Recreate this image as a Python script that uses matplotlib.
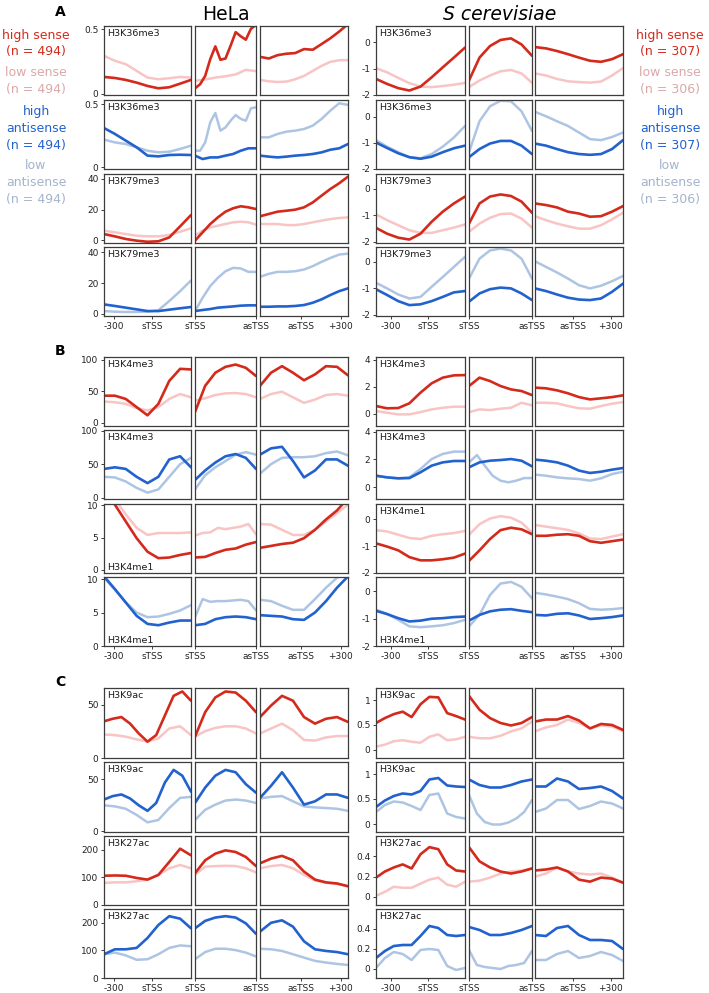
import numpy as np
import matplotlib
matplotlib.use("Agg")
import matplotlib.pyplot as plt
from matplotlib.ticker import FormatStrFormatter

plt.rcParams['font.family'] = 'DejaVu Sans'
plt.rcParams['axes.unicode_minus'] = False

# ---------------- data (each row: 3 panels) ----------------
# HeLa
hela_A1_high = [[0.13, 0.122, 0.107, 0.086, 0.06, 0.042, 0.05, 0.078, 0.107],
                [0.042, 0.073, 0.138, 0.268, 0.367, 0.263, 0.273, 0.372, 0.477, 0.445, 0.419, 0.503, 0.534],
                [0.286, 0.273, 0.299, 0.31, 0.315, 0.346, 0.341, 0.385, 0.43, 0.482, 0.54]]
hela_A1_low = [[0.294, 0.255, 0.229, 0.177, 0.125, 0.112, 0.12, 0.13, 0.125],
               [0.1, 0.11, 0.125, 0.135, 0.15, 0.185, 0.175],
               [0.107, 0.096, 0.091, 0.094, 0.112, 0.138, 0.177, 0.216, 0.247, 0.26, 0.26]]
hela_A2_high = [[0.312, 0.265, 0.212, 0.159, 0.093, 0.087, 0.098, 0.1, 0.098],
                [0.093, 0.066, 0.079, 0.079, 0.093, 0.106, 0.132, 0.151, 0.151],
                [0.093, 0.085, 0.079, 0.085, 0.093, 0.098, 0.106, 0.119, 0.14, 0.151, 0.185]]
hela_A2_low = [[0.22, 0.198, 0.185, 0.159, 0.132, 0.119, 0.124, 0.146, 0.172],
               [0.132, 0.132, 0.198, 0.357, 0.431, 0.291, 0.317, 0.37, 0.415, 0.384, 0.37, 0.468, 0.476],
               [0.238, 0.238, 0.265, 0.283, 0.291, 0.304, 0.331, 0.384, 0.45, 0.508, 0.495]]
hela_A3_high = [[4.1, 2.6, 0.9, -0.2, -0.9, -0.6, 1.9, 9.1, 16.4],
                [-0.2, 5.2, 10.6, 14.9, 18.6, 20.8, 22.1, 21.4, 20.3],
                [15.6, 17.1, 18.6, 19.2, 19.9, 21.4, 24.6, 29.0, 33.3, 37.0, 41.3]]
hela_A3_low = [[6.3, 5.2, 4.1, 3.0, 2.6, 2.6, 3.5, 5.6, 7.8],
               [3.0, 6.3, 8.4, 9.5, 10.6, 11.7, 12.1, 11.7, 10.2],
               [10.6, 10.6, 10.6, 9.9, 9.9, 10.6, 11.7, 12.8, 13.8, 14.5, 14.9]]
hela_A4_high = [[6.2, 5.2, 4.1, 3.0, 1.9, 1.9, 2.8, 3.7, 4.5],
                [1.9, 2.6, 3.2, 4.1, 4.5, 4.9, 5.4, 5.6, 5.6],
                [4.7, 4.7, 4.9, 4.9, 5.2, 5.8, 7.3, 9.5, 12.3, 14.8, 16.6]]
hela_A4_low = [[1.9, 1.5, 1.3, 1.3, 1.5, 2.4, 8.4, 14.8, 21.7],
               [1.9, 10.5, 18.1, 23.4, 27.7, 29.9, 29.5, 27.3, 27.3],
               [24.1, 26.0, 27.3, 27.3, 27.7, 28.8, 31.0, 33.8, 36.3, 38.5, 39.1]]
hela_B1_high = [[43.2, 43.2, 38.0, 25.0, 12.0, 30.2, 66.7, 85.9, 84.9],
                [17.2, 58.9, 79.7, 89.1, 92.7, 87.5, 74.5],
                [58.9, 79.7, 90.1, 79.7, 67.7, 77.1, 90.1, 89.1, 75.5]]
hela_B1_low = [[33.9, 32.8, 30.2, 23.4, 19.8, 25.0, 38.0, 45.8, 40.6],
               [35.4, 39.1, 44.3, 46.9, 47.4, 45.8, 40.6],
               [38.0, 45.8, 49.5, 40.6, 31.8, 37.0, 44.3, 45.8, 43.2]]
hela_B2_high = [[42.9, 45.3, 42.9, 31.1, 21.7, 31.1, 57.0, 61.8, 45.3],
                [26.4, 40.6, 52.4, 61.8, 65.1, 59.4, 42.9],
                [64.2, 73.6, 75.9, 54.7, 30.2, 40.6, 57.1, 57.1, 47.6]]
hela_B2_low = [[31.1, 30.2, 24.1, 14.6, 7.5, 12.3, 31.1, 50.0, 59.4],
               [12.3, 33.5, 45.3, 54.7, 64.2, 67.9, 64.2],
               [35.8, 50.0, 59.4, 60.4, 60.4, 61.8, 66.5, 68.9, 63.2]]
hela_B3_high = [[12.2, 10.1, 7.5, 4.9, 2.8, 1.8, 1.9, 2.3, 2.6],
                [1.9, 2.0, 2.6, 3.1, 3.3, 3.9, 4.3],
                [3.4, 3.7, 4.0, 4.2, 4.9, 6.2, 7.8, 9.2, 11.1]]
hela_B3_low = [[13.2, 10.9, 8.6, 6.5, 5.4, 5.7, 5.7, 5.7, 5.8],
               [5.3, 5.7, 5.8, 6.5, 6.3, 6.5, 6.7, 7.1, 5.5],
               [7.1, 7.0, 6.2, 5.4, 5.4, 6.2, 7.5, 8.8, 10.1]]
hela_B4_high = [[10.4, 8.5, 6.5, 4.5, 3.3, 3.1, 3.5, 3.8, 3.8],
                [3.1, 3.3, 4.0, 4.3, 4.4, 4.3, 4.0],
                [4.6, 4.5, 4.4, 4.0, 3.9, 5.0, 6.7, 8.7, 10.4]]
hela_B4_low = [[10.2, 8.4, 6.5, 5.0, 4.3, 4.4, 4.8, 5.3, 6.1],
               [4.3, 7.0, 6.6, 6.7, 6.7, 6.8, 6.9, 6.7, 5.3],
               [6.9, 6.7, 6.0, 5.4, 5.4, 7.0, 8.7, 10.2, 10.9]]
hela_C1_high = [[34.6, 37.0, 38.6, 32.4, 23.1, 15.4, 21.6, 40.1, 58.6, 62.7, 54.0],
                [20.1, 43.2, 57.1, 62.7, 61.7, 54.0, 43.2],
                [38.6, 49.4, 58.6, 54.0, 38.6, 32.4, 37.0, 38.6, 34.0]]
hela_C1_low = [[22.2, 21.6, 20.1, 17.6, 15.4, 18.5, 27.8, 29.9, 21.6],
               [20.1, 25.3, 28.4, 29.9, 29.9, 27.8, 23.1],
               [23.1, 27.8, 32.4, 26.2, 17.0, 16.4, 19.4, 20.7, 20.7]]
hela_C2_high = [[30.6, 33.9, 35.5, 31.6, 25.0, 19.7, 27.3, 47.0, 59.2, 53.6, 38.2],
                [27.3, 42.1, 53.6, 59.2, 56.9, 45.4, 37.2],
                [32.2, 43.8, 56.9, 42.1, 25.7, 28.9, 35.5, 35.5, 32.2]]
hela_C2_low = [[25.0, 24.0, 21.7, 15.8, 8.6, 10.9, 22.4, 32.2, 33.2],
               [10.9, 20.7, 25.7, 29.6, 30.6, 29.6, 27.3],
               [31.6, 33.2, 33.9, 28.9, 24.0, 23.0, 22.4, 21.7, 19.7]]
hela_C3_high = [[106, 107, 106, 98, 92, 109, 156, 204, 180],
                [115, 162, 186, 198, 192, 174, 141],
                [151, 168, 178, 162, 121, 92, 82, 78, 68]]
hela_C3_low = [[80, 82, 82, 86, 92, 109, 133, 145, 133],
               [109, 139, 141, 142, 141, 133, 118],
               [133, 141, 145, 133, 109, 89, 80, 76, 68]]
hela_C4_high = [[86, 104, 104, 109, 145, 192, 224, 215, 180],
                [180, 207, 219, 224, 219, 198, 160],
                [168, 200, 209, 186, 133, 104, 98, 94, 86]]
hela_C4_low = [[86, 92, 82, 66, 68, 86, 109, 118, 115],
               [68, 94, 106, 106, 101, 92, 78],
               [106, 104, 98, 86, 74, 62, 56, 51, 47]]

# S cerevisiae
yeast_A1_high = [[-1.39, -1.58, -1.74, -1.83, -1.68, -1.33, -0.95, -0.58, -0.2],
                 [-1.45, -0.58, -0.14, 0.09, 0.15, -0.08, -0.51],
                 [-0.18, -0.23, -0.33, -0.45, -0.58, -0.7, -0.74, -0.64, -0.45]]
yeast_A1_low = [[-0.98, -1.14, -1.35, -1.55, -1.68, -1.7, -1.66, -1.61, -1.54],
                [-1.7, -1.45, -1.26, -1.1, -1.05, -1.18, -1.54],
                [-1.18, -1.26, -1.39, -1.48, -1.51, -1.53, -1.49, -1.26, -0.98]]
yeast_A2_high = [[-0.99, -1.2, -1.4, -1.55, -1.61, -1.53, -1.36, -1.21, -1.11],
                 [-1.55, -1.24, -1.03, -0.93, -0.93, -1.11, -1.43],
                 [-1.03, -1.11, -1.24, -1.36, -1.43, -1.46, -1.43, -1.24, -0.9]]
yeast_A2_low = [[-0.9, -1.15, -1.36, -1.55, -1.59, -1.43, -1.15, -0.8, -0.36],
                [-1.36, -0.18, 0.39, 0.6, 0.58, 0.2, -0.55],
                [0.18, 0.01, -0.18, -0.36, -0.61, -0.86, -0.9, -0.78, -0.61]]
yeast_A3_high = [[-1.48, -1.7, -1.85, -1.92, -1.7, -1.25, -0.87, -0.56, -0.3],
                 [-1.32, -0.56, -0.3, -0.22, -0.28, -0.49, -0.91],
                 [-0.56, -0.62, -0.71, -0.87, -0.94, -1.06, -1.04, -0.87, -0.66]]
yeast_A3_low = [[-0.97, -1.19, -1.38, -1.57, -1.67, -1.67, -1.57, -1.47, -1.35],
                [-1.63, -1.32, -1.1, -0.96, -0.94, -1.13, -1.47],
                [-1.04, -1.19, -1.32, -1.42, -1.51, -1.51, -1.38, -1.16, -0.91]]
yeast_A4_high = [[-1.04, -1.26, -1.49, -1.64, -1.61, -1.49, -1.33, -1.16, -1.11],
                 [-1.51, -1.2, -1.04, -0.98, -1.01, -1.2, -1.45],
                 [-1.01, -1.11, -1.24, -1.36, -1.43, -1.45, -1.39, -1.14, -0.83]]
yeast_A4_low = [[-0.8, -1.01, -1.24, -1.39, -1.33, -0.95, -0.58, -0.2, 0.18],
                [-0.64, 0.11, 0.42, 0.49, 0.42, 0.11, -0.64],
                [0.01, -0.2, -0.41, -0.64, -0.89, -1.01, -0.91, -0.74, -0.54]]
yeast_B1_high = [[0.57, 0.4, 0.42, 0.77, 1.56, 2.25, 2.67, 2.84, 2.86],
                 [2.05, 2.67, 2.42, 2.05, 1.8, 1.68, 1.38],
                 [1.93, 1.88, 1.73, 1.51, 1.23, 1.06, 1.14, 1.23, 1.36]]
yeast_B1_low = [[0.2, 0.07, -0.05, -0.05, 0.12, 0.32, 0.44, 0.52, 0.52],
                [0.12, 0.32, 0.27, 0.37, 0.44, 0.81, 0.62],
                [0.81, 0.81, 0.77, 0.57, 0.4, 0.37, 0.57, 0.74, 0.86]]
yeast_B2_high = [[0.82, 0.7, 0.63, 0.65, 1.07, 1.55, 1.79, 1.89, 1.89],
                 [1.43, 1.79, 1.91, 1.96, 2.03, 1.91, 1.5],
                 [1.99, 1.91, 1.79, 1.55, 1.19, 1.02, 1.11, 1.26, 1.38]]
yeast_B2_low = [[0.82, 0.7, 0.63, 0.7, 1.31, 2.03, 2.4, 2.57, 2.57],
                [1.79, 2.32, 1.55, 0.82, 0.46, 0.34, 0.46, 0.65, 0.65],
                [0.9, 0.82, 0.7, 0.63, 0.58, 0.46, 0.63, 0.94, 1.11]]
yeast_B3_high = [[-0.9, -1.02, -1.16, -1.41, -1.53, -1.53, -1.49, -1.43, -1.28],
                 [-1.55, -1.16, -0.74, -0.41, -0.32, -0.38, -0.56],
                 [-0.62, -0.62, -0.58, -0.56, -0.62, -0.82, -0.88, -0.82, -0.76]]
yeast_B3_low = [[-0.41, -0.46, -0.58, -0.7, -0.74, -0.62, -0.56, -0.52, -0.44],
                [-0.58, -0.19, 0.02, 0.11, 0.05, -0.13, -0.5],
                [-0.22, -0.28, -0.34, -0.4, -0.53, -0.72, -0.74, -0.65, -0.56]]
yeast_B4_high = [[-0.71, -0.83, -0.98, -1.1, -1.07, -1.0, -0.98, -0.94, -0.92],
                 [-1.07, -0.86, -0.73, -0.67, -0.65, -0.71, -0.76],
                 [-0.86, -0.88, -0.82, -0.8, -0.88, -1.01, -0.98, -0.94, -0.88]]
yeast_B4_low = [[-0.67, -0.82, -1.04, -1.28, -1.31, -1.28, -1.24, -1.16, -1.04],
                [-1.28, -0.86, -0.13, 0.29, 0.35, 0.17, -0.25],
                [-0.05, -0.11, -0.19, -0.28, -0.43, -0.64, -0.67, -0.65, -0.61]]
yeast_C1_high = [[0.54, 0.64, 0.72, 0.77, 0.66, 0.92, 1.07, 1.06, 0.74, 0.68, 0.61],
                 [1.09, 0.81, 0.64, 0.54, 0.49, 0.54, 0.66],
                 [0.57, 0.61, 0.61, 0.68, 0.59, 0.43, 0.52, 0.5, 0.4]]
yeast_C1_low = [[0.06, 0.1, 0.17, 0.19, 0.16, 0.14, 0.26, 0.31, 0.19, 0.21, 0.26],
                [0.26, 0.23, 0.23, 0.28, 0.37, 0.43, 0.57],
                [0.37, 0.45, 0.5, 0.61, 0.54, 0.43, 0.49, 0.47, 0.37]]
yeast_C2_high = [[0.34, 0.47, 0.56, 0.61, 0.59, 0.66, 0.89, 0.92, 0.77, 0.75, 0.74],
                 [0.89, 0.78, 0.73, 0.73, 0.78, 0.85, 0.89],
                 [0.75, 0.75, 0.91, 0.85, 0.7, 0.72, 0.75, 0.66, 0.51]]
yeast_C2_low = [[0.24, 0.38, 0.45, 0.43, 0.36, 0.28, 0.58, 0.61, 0.21, 0.14, 0.11],
                [0.58, 0.21, 0.04, -0.01, -0.01, 0.03, 0.11, 0.24, 0.48],
                [0.24, 0.31, 0.48, 0.48, 0.3, 0.36, 0.45, 0.41, 0.31]]
yeast_C3_high = [[0.19, 0.25, 0.29, 0.32, 0.28, 0.42, 0.49, 0.47, 0.32, 0.26, 0.25],
                 [0.49, 0.35, 0.29, 0.25, 0.23, 0.25, 0.28],
                 [0.26, 0.27, 0.29, 0.25, 0.17, 0.15, 0.19, 0.18, 0.14]]
yeast_C3_low = [[0.01, 0.05, 0.1, 0.09, 0.09, 0.13, 0.17, 0.19, 0.12, 0.1, 0.15],
                [0.15, 0.16, 0.19, 0.23, 0.25, 0.26, 0.28],
                [0.2, 0.23, 0.29, 0.25, 0.23, 0.22, 0.23, 0.19, 0.14]]
yeast_C4_high = [[0.11, 0.18, 0.23, 0.24, 0.24, 0.33, 0.43, 0.41, 0.34, 0.33, 0.34],
                 [0.42, 0.39, 0.34, 0.34, 0.36, 0.39, 0.43],
                 [0.34, 0.33, 0.41, 0.43, 0.34, 0.29, 0.29, 0.28, 0.2]]
yeast_C4_low = [[0.01, 0.11, 0.17, 0.15, 0.09, 0.19, 0.2, 0.19, 0.03, -0.01, 0.01],
                [0.19, 0.04, 0.02, 0.01, 0.0, 0.03, 0.04, 0.06, 0.18],
                [0.09, 0.09, 0.15, 0.18, 0.11, 0.13, 0.17, 0.14, 0.08]]

marks = ["H3K36me3", "H3K36me3", "H3K79me3", "H3K79me3",
         "H3K4me3", "H3K4me3", "H3K4me1", "H3K4me1",
         "H3K9ac", "H3K9ac", "H3K27ac", "H3K27ac"]

hela_high = [hela_A1_high, hela_A2_high, hela_A3_high, hela_A4_high,
             hela_B1_high, hela_B2_high, hela_B3_high, hela_B4_high,
             hela_C1_high, hela_C2_high, hela_C3_high, hela_C4_high]
hela_low = [hela_A1_low, hela_A2_low, hela_A3_low, hela_A4_low,
            hela_B1_low, hela_B2_low, hela_B3_low, hela_B4_low,
            hela_C1_low, hela_C2_low, hela_C3_low, hela_C4_low]
yeast_high = [yeast_A1_high, yeast_A2_high, yeast_A3_high, yeast_A4_high,
              yeast_B1_high, yeast_B2_high, yeast_B3_high, yeast_B4_high,
              yeast_C1_high, yeast_C2_high, yeast_C3_high, yeast_C4_high]
yeast_low = [yeast_A1_low, yeast_A2_low, yeast_A3_low, yeast_A4_low,
             yeast_B1_low, yeast_B2_low, yeast_B3_low, yeast_B4_low,
             yeast_C1_low, yeast_C2_low, yeast_C3_low, yeast_C4_low]

hela_ylims = [(-0.01, 0.525), (-0.013, 0.534), (-1.7, 43), (-1.3, 43.4),
              (-5, 104.7), (-2, 101), (-0.5, 10.2), (0, 10.3),
              (0, 66), (-0.7, 66.8), (0, 250), (0, 250)]
hela_yticks = [[0, 0.5], [0, 0.5], [0, 20, 40], [0, 20, 40],
               [0, 50, 100], [0, 50, 100], [0, 5, 10], [0, 5, 10],
               [0, 50], [0, 50], [0, 100, 200], [0, 100, 200]]
yeast_ylims = [(-2, 0.62), (-2, 0.63), (-2.05, 0.55), (-2.05, 0.55),
               (-0.91, 4.2), (-0.87, 4.14), (-2, 0.56), (-2, 0.53),
               (-0.17, 1.25), (-0.16, 1.24), (-0.08, 0.6), (-0.09, 0.6)]
yeast_yticks = [[-2, -1, 0], [-2, -1, 0], [-2, -1, 0], [-2, -1, 0],
                [0, 2, 4], [0, 2, 4], [-2, -1, 0], [-2, -1, 0],
                [0, 0.5, 1], [0, 0.5, 1], [0, 0.2, 0.4], [0, 0.2, 0.4]]

hela_xticks = [[0.115, 0.55], [0, 1], [0.466, 0.917]]
yeast_xticks = [[0.165, 0.588], [0, 1], [0.428, 0.86]]
xtick_labels = [["-300", "sTSS"], ["sTSS", "asTSS"], ["asTSS", "+300"]]

hela_n = ["494", "494", "494", "494"]
yeast_n = ["307", "306", "307", "306"]

# ---------------- styling ----------------
sense_colors = ("#d42a1c", "#f8c4c4")
anti_colors = ("#2262cf", "#adc5e3")
legend_colors = ["#d42a1c", "#dba8a8", "#2262cf", "#a3b4cd"]

W, H = 709, 993
fig = plt.figure(figsize=(W / 100, H / 100), dpi=100)


def px_axes(x0, y0, x1, y1):
    return fig.add_axes([x0 / W, 1 - y1 / H, (x1 - x0) / W, (y1 - y0) / H])


hela_cols = [(104, 191), (195, 256), (260, 348)]
yeast_cols = [(376, 465), (469, 532), (535, 623)]
row_spans = [(26, 95), (100, 169), (174, 243), (247, 316),
             (357, 426), (430, 499), (504, 573), (577, 646),
             (688, 758), (762, 832), (836, 905), (909, 978)]

groups = [
    (hela_cols, hela_high, hela_low, hela_ylims, hela_yticks, hela_xticks, {6, 7}),
    (yeast_cols, yeast_high, yeast_low, yeast_ylims, yeast_yticks, yeast_xticks, {7}),
]

for cols, highs, lows, ylims, yticks, xticks, bottom_label_rows in groups:
    for r, (y0, y1) in enumerate(row_spans):
        dark, light = sense_colors if r % 2 == 0 else anti_colors
        for c, (x0, x1) in enumerate(cols):
            ax = px_axes(x0, y0, x1, y1)
            lo = lows[r][c]
            hi = highs[r][c]
            ax.plot(np.linspace(0, 1, len(lo)), lo, color=light, lw=1.8,
                    solid_joinstyle='round', solid_capstyle='round')
            ax.plot(np.linspace(0, 1, len(hi)), hi, color=dark, lw=1.9,
                    solid_joinstyle='round', solid_capstyle='round')
            ax.set_xlim(0, 1)
            ax.set_ylim(*ylims[r])
            for s in ax.spines.values():
                s.set_color("#3c3c3c")
                s.set_linewidth(0.9)
            ax.tick_params(direction='out', length=2.5, width=0.7, pad=1.5,
                           labelsize=6.5, colors="#3c3c3c", labelcolor="#222222")
            if c == 0:
                ax.set_yticks(yticks[r])
                ax.yaxis.set_major_formatter(FormatStrFormatter('%g'))
                if r in bottom_label_rows:
                    ax.text(0.04, 0.015, marks[r], transform=ax.transAxes,
                            ha='left', va='bottom', fontsize=6.8, color="#1a1a1a")
                else:
                    ax.text(0.04, 0.96, marks[r], transform=ax.transAxes,
                            ha='left', va='top', fontsize=6.8, color="#1a1a1a")
            else:
                ax.set_yticks([])
            if r in (3, 7, 11):
                ax.set_xticks(xticks[c])
                ax.set_xticklabels(xtick_labels[c])
            else:
                ax.set_xticks([])

# titles and section letters
fig.text(226 / W, 1 - 14 / H, "HeLa", ha='center', va='center', fontsize=13.5)
fig.text(500 / W, 1 - 14 / H, "S cerevisiae", ha='center', va='center',
         fontsize=13.5, style='italic')
for letter, yy in zip(["A", "B", "C"], [12, 351, 682]):
    fig.text(60 / W, 1 - yy / H, letter, ha='center', va='center',
             fontsize=10, fontweight='bold')

# group legends as coloured text
legend_words = [["high sense", "(n = {})"], ["low sense", "(n = {})"],
                ["high", "antisense", "(n = {})"], ["low", "antisense", "(n = {})"]]
legend_y = [[35, 52], [72, 89], [112, 129, 146], [165, 183, 200]]
for xc, ns in [(36, hela_n), (670, yeast_n)]:
    for words, ys, col, n in zip(legend_words, legend_y, legend_colors, ns):
        for w, yy in zip(words, ys):
            fig.text(xc / W, 1 - yy / H, w.format(n), ha='center', va='center',
                     fontsize=9, color=col)

fig.savefig("out.png", dpi=100)
